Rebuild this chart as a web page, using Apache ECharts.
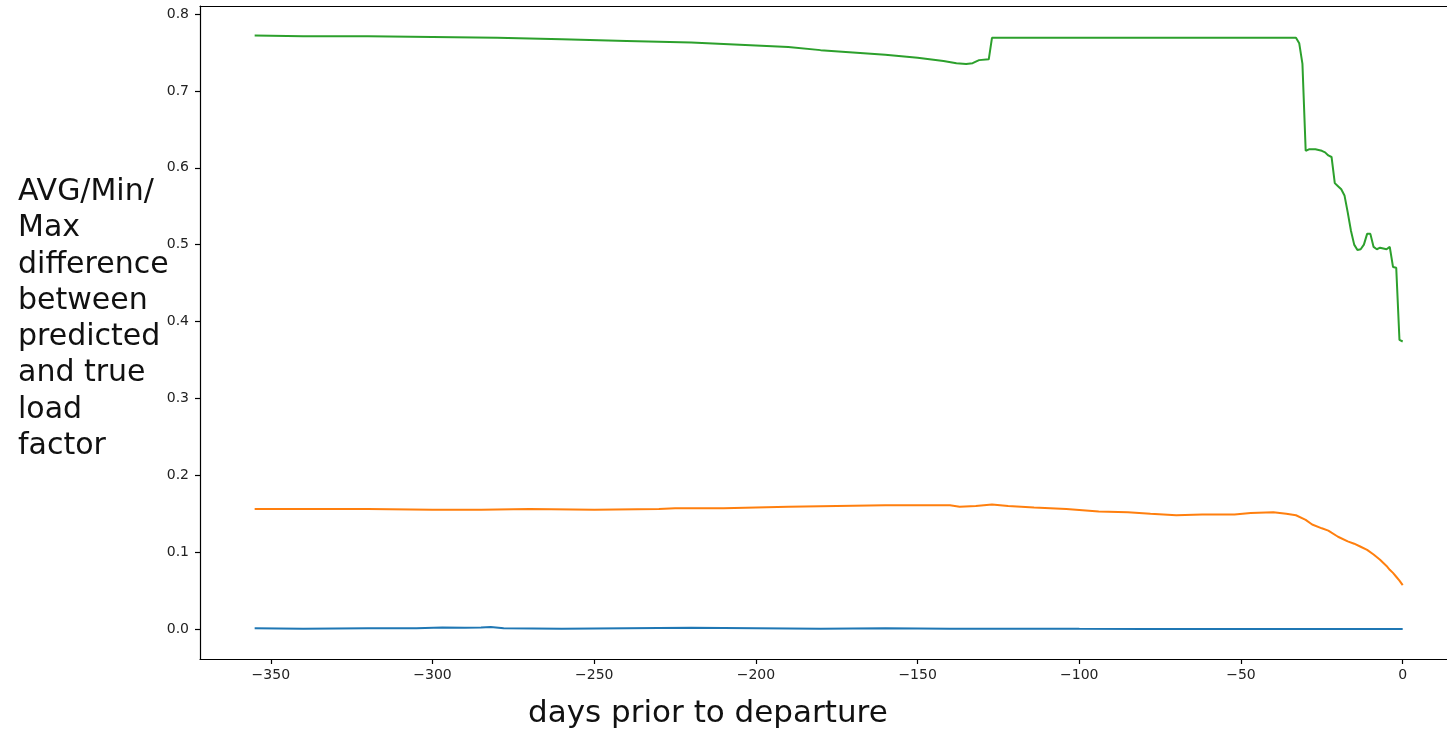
<!DOCTYPE html>
<html>
<head>
<meta charset="utf-8">
<script src="https://cdn.jsdelivr.net/npm/echarts@6/dist/echarts.min.js"></script>
<style>html,body{margin:0;padding:0;background:#fff;}#c{width:1447px;height:736px;}</style>
</head>
<body>
<div id="c"></div>
<script>
// ---- data ----
const xTicks = [-350, -300, -250, -200, -150, -100, -50, 0];
const yTicks = [0, 0.1, 0.2, 0.3, 0.4, 0.5, 0.6, 0.7, 0.8];

const daysMax = [-355,-340,-320,-300,-280,-260,-240,-220,-210,-200,-190,-180,-170,-160,-150,-142,-138,-135,-133,-131,-128,-127,
  -33,-32,-31,-30,-29,-28,-27,-26,-25,-24,-23,-22,-21,-20,-19,-18,-17,-16,-15,-14,-13,-12,-11,-10,-9,-8,-7,-6,-5,-4,-3,-2,-1,0];
const valuesMax = [0.772,0.771,0.771,0.770,0.769,0.767,0.765,0.763,0.761,0.759,0.757,0.753,0.750,0.747,0.743,0.739,0.736,0.735,0.736,0.740,0.741,0.769,
  0.769,0.762,0.735,0.622,0.624,0.624,0.624,0.623,0.622,0.620,0.616,0.614,0.580,0.576,0.572,0.564,0.542,0.518,0.500,0.493,0.494,0.500,0.514,0.514,0.497,0.494,0.496,0.495,0.494,0.497,0.471,0.470,0.376,0.374];

const daysAvg = [-355,-340,-320,-300,-285,-270,-250,-230,-225,-210,-200,-190,-175,-160,-150,-140,-137,-132,-127,-122,-114,-104,-94,-85,-78,-70,-62,-52,-47,-40,-36,-33,-30,-28,-25,-23,-20,-17,-15,-13,-11,-9,-7,-5,-4,-3,-2,-1,0];
const valuesAvg = [0.156,0.156,0.156,0.155,0.155,0.156,0.155,0.156,0.157,0.157,0.158,0.159,0.160,0.161,0.161,0.161,0.159,0.160,0.162,0.160,0.158,0.156,0.153,0.152,0.150,0.148,0.149,0.149,0.151,0.152,0.150,0.148,0.142,0.136,0.131,0.128,0.120,0.114,0.111,0.107,0.103,0.097,0.090,0.082,0.077,0.073,0.068,0.063,0.057];

const daysMin = [-355,-340,-320,-305,-297,-290,-285,-282,-278,-260,-240,-220,-200,-180,-160,-140,-120,-100,-80,-60,-40,-20,0];
const valuesMin = [0.001,0.0005,0.001,0.001,0.002,0.0015,0.002,0.0025,0.001,0.0005,0.001,0.0015,0.001,0.0005,0.001,0.0005,0.0005,0.0002,0.0001,0,0,0,0];

const zip = (xs, ys) => xs.map((x, i) => [x, ys[i]]);

const FONT = 'DejaVu Sans';
const chart = echarts.init(document.getElementById('c'), null, {renderer: 'canvas'});
const lineSeries = (data, color) => ({
  type: 'line', data, showSymbol: false, smooth: false, animation: false,
  lineStyle: {color, width: 2}, itemStyle: {color}, xAxisIndex: 0, yAxisIndex: 0
});

chart.setOption({
  backgroundColor: '#fff',
  animation: false,
  grid: {left: 200, top: 6, right: 0, bottom: 77, containLabel: false},
  xAxis: [{
    type: 'value', min: -371.9, max: 13.7, position: 'bottom',
    splitLine: {show: false},
    axisLine: {show: true, onZero: false, lineStyle: {color: '#000', width: 1.2}},
    axisTick: {show: true, inside: false, length: 5, customValues: xTicks, lineStyle: {color: '#000', width: 1.2}},
    axisLabel: {customValues: xTicks, margin: 9, color: '#222', fontFamily: FONT, fontSize: 14,
      formatter: v => String(v).replace('-', '\u2212')}
  }, {
    type: 'value', min: -371.9, max: 13.7, position: 'top',
    splitLine: {show: false},
    axisLine: {show: true, onZero: false, lineStyle: {color: '#000', width: 1.2}},
    axisTick: {show: false}, axisLabel: {show: false}
  }],
  yAxis: {
    type: 'value', min: -0.039, max: 0.8104,
    splitLine: {show: false},
    axisLine: {show: true, onZero: false, lineStyle: {color: '#000', width: 1.2}},
    axisTick: {show: true, inside: false, length: 5, customValues: yTicks, lineStyle: {color: '#000', width: 1.2}},
    axisLabel: {customValues: yTicks, margin: 11, color: '#222', fontFamily: FONT, fontSize: 14,
      formatter: v => v.toFixed(1)}
  },
  graphic: [
    {type: 'text', left: 18, top: 174, silent: true,
      style: {text: 'AVG/Min/\nMax\ndifference\nbetween\npredicted\nand true\nload\nfactor',
        fill: '#111', font: '30px "DejaVu Sans"', lineHeight: 36.3}},
    {type: 'text', left: 528, top: 698, silent: true,
      style: {text: 'days prior to departure', fill: '#111', font: '31px "DejaVu Sans"'}}
  ],
  series: [
    lineSeries(zip(daysMin, valuesMin), '#1f77b4'),
    lineSeries(zip(daysAvg, valuesAvg), '#ff7f0e'),
    lineSeries(zip(daysMax, valuesMax), '#2ca02c')
  ]
});
</script>
</body>
</html>
